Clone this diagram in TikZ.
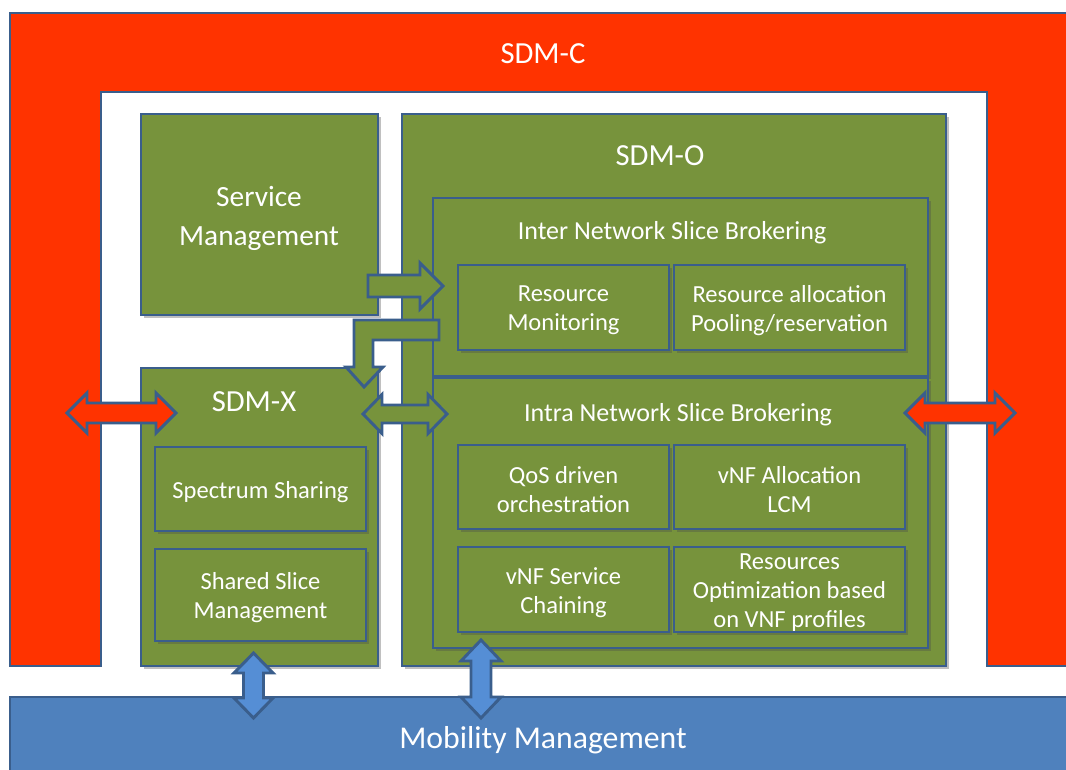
\documentclass[tikz,border=0pt]{standalone}
\usepackage{fontspec}
\setmainfont{Carlito}
\usetikzlibrary{shadows}
\definecolor{sdmred}{HTML}{FF3300}
\definecolor{sdmgreen}{HTML}{77933C}
\definecolor{sdmline}{HTML}{3A5E8C}
\definecolor{sdmblue}{HTML}{4F81BD}
\definecolor{sdmarrowblue}{HTML}{558ED5}
\tikzset{
  box/.style={draw=sdmline, line width=1.1pt, fill=sdmgreen, inner sep=0pt, outer sep=0pt,
    align=center, text=white},
  shadowbox/.style={box, drop shadow={shadow xshift=2pt, shadow yshift=-2pt, opacity=0.35, fill=black!70}},
  blockarrow/.style={draw=sdmline, line width=2.2pt, line join=miter},
  lbl/.style={text=white, inner sep=0pt, align=center},
  small/.style={font=\fontsize{18.4}{21.75}\selectfont},
}
% \bx{style}{name}{x1}{y1}{x2}{y2}{text}
\newcommand{\bx}[7]{%
  \node[shadowbox, minimum width={(#5-#3)*0.75pt}, minimum height={(#6-#4)*0.75pt}] (#2)
    at ({(#3+#5)/2},{(#4+#6)/2}) {};
  \node[lbl, #1] (#2-text) at ({(#3+#5)/2},{(#4+#6)/2+3}) {#7};}
% horizontal double arrow: x1 x2 yc shafthalf headhalf headlen
\newcommand{\hdarrow}[7]{%
  \draw[blockarrow, fill=#7] (#1,#3) -- ({#1+#6},{#3-#5}) -- ({#1+#6},{#3-#4}) -- ({#2-#6},{#3-#4})
   -- ({#2-#6},{#3-#5}) -- (#2,#3) -- ({#2-#6},{#3+#5}) -- ({#2-#6},{#3+#4}) -- ({#1+#6},{#3+#4})
   -- ({#1+#6},{#3+#5}) -- cycle;}
% vertical double arrow: xc y1 y2 shafthalf headhalf headlen
\newcommand{\vdarrow}[7]{%
  \draw[blockarrow, fill=#7] (#1,#2) -- ({#1+#5},{#2+#6}) -- ({#1+#4},{#2+#6}) -- ({#1+#4},{#3-#6})
   -- ({#1+#5},{#3-#6}) -- (#1,#3) -- ({#1-#5},{#3-#6}) -- ({#1-#4},{#3-#6}) -- ({#1-#4},{#2+#6})
   -- ({#1-#5},{#2+#6}) -- cycle;}
\begin{document}
\begin{tikzpicture}[x=0.75pt, y=-0.75pt]
\clip (0,0) rectangle (1066,770);
\useasboundingbox (0,0) rectangle (1066,770);
\fill[white] (0,0) rectangle (1066,770);

% SDM-C frame
\draw[fill=sdmred, draw=sdmline, line width=1.5pt]
  (10,666) -- (10,13) -- (1085,13) -- (1085,666) -- (987,666) -- (987,92)
  -- (101,92) -- (101,666) -- cycle;
\node[lbl, font=\fontsize{23}{27}\selectfont] (sdmc) at (543,53.5) {SDM-C};

% Mobility Management
\draw[fill=sdmblue, draw=sdmline, line width=1.5pt] (10,697) rectangle (1085,785);
\node[lbl, font=\fontsize{23.8}{28}\selectfont] (mm) at (543,740) {Mobility Management};

% main green blocks
\bx{font=\fontsize{22}{29}\selectfont}{svc}{141}{114}{378}{315}{}
\node[lbl, font=\fontsize{22}{29}\selectfont] (svclbl) at (259,218.5) {Service\\Management};
\bx{}{sdmo}{402}{114}{946}{666}{}
\node[lbl, font=\fontsize{23}{27}\selectfont] (sdmolbl) at (660,156) {SDM-O};
\bx{}{sdmx}{141}{368}{378}{666}{}
\node[lbl, font=\fontsize{23}{27}\selectfont] (sdmxlbl) at (254,402) {SDM-X};

% inner brokering blocks
\bx{}{inter}{433}{198}{928}{376}{}
\node[lbl, font=\fontsize{19.5}{23}\selectfont] (interlbl) at (672,233) {Inter Network Slice Brokering};
\bx{}{intra}{433}{378}{928}{648}{}
\node[lbl, font=\fontsize{19.5}{23}\selectfont] (intralbl) at (678,415) {Intra Network Slice Brokering};

% sub-blocks
\bx{small}{resmon}{458}{265}{669}{350}{Resource\\Monitoring}
\bx{small}{resalloc}{674}{265}{905}{350}{Resource allocation\\Pooling/reservation}
\bx{small}{qos}{458}{445}{669}{529}{QoS driven\\orchestration}
\bx{small}{vnfalloc}{674}{445}{905}{529}{vNF Allocation\\LCM}
\bx{small}{vnfchain}{458}{547}{669}{632}{vNF Service\\Chaining}
\bx{small}{resopt}{674}{547}{905}{632}{Resources\\Optimization based\\on VNF profiles}
\bx{small}{spectrum}{155}{447}{366}{531}{Spectrum Sharing}
\bx{small}{shared}{155}{549}{366}{641}{Shared Slice\\Management}

% arrows
\draw[blockarrow, fill=sdmgreen] (368,275) -- (420,275) -- (420,263) -- (443,286)
  -- (420,309) -- (420,297) -- (368,297) -- cycle;
\draw[blockarrow, fill=sdmgreen] (439,320) -- (354,320) -- (354,367) -- (346,367)
  -- (364,387) -- (383,367) -- (373,367) -- (373,340) -- (439,340) -- cycle;
\hdarrow{363}{447}{414}{9}{19.5}{19}{sdmgreen}
\hdarrow{67}{176}{413}{10}{20}{20}{sdmred}
\hdarrow{905}{1015}{413}{10}{20}{20}{sdmred}
\vdarrow{253.5}{653}{718}{10}{19.5}{20}{sdmarrowblue}
\vdarrow{481}{640}{718}{10}{20}{21}{sdmarrowblue}
\end{tikzpicture}
\end{document}
